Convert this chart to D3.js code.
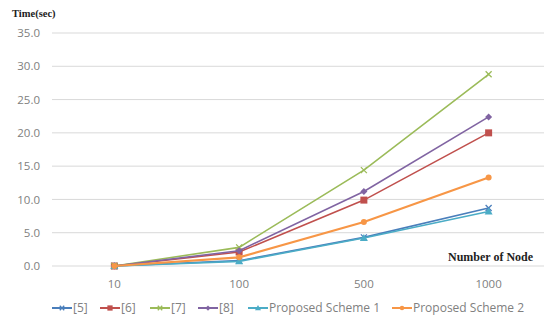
<!DOCTYPE html>
<html><head><meta charset="utf-8">
<script src="https://cdn.jsdelivr.net/npm/d3@7"></script>
<style>body{margin:0;background:#fff}svg{display:block}</style>
</head><body>
<svg id="c" width="544" height="320"></svg>
<script>
const categories = ["10", "100", "500", "1000"];
const yTicks = [0, 5, 10, 15, 20, 25, 30, 35];
const s5   = [0, 0.8, 4.3, 8.7];
const s6   = [0, 2.1, 9.9, 20.0];
const s7   = [0, 2.8, 14.4, 28.8];
const s8   = [0, 2.3, 11.2, 22.4];
const ps1  = [0, 0.7, 4.2, 8.2];
const ps2  = [0, 1.3, 6.6, 13.3];
const seriesNames = ["[5]", "[6]", "[7]", "[8]", "Proposed Scheme 1", "Proposed Scheme 2"];
const seriesValues = [s5, s6, s7, s8, ps1, ps2];
const colors = ["#4a7ebb", "#c0504d", "#9bbb59", "#8064a2", "#4bacc6", "#f79646"];
const markers = ["x", "square", "x", "diamond", "triangle", "circle"];

const svg = d3.select("#c");
const x = d3.scaleBand().domain(categories).range([52, 551]);
const y = d3.scaleLinear().domain([0, 35]).range([266, 33]);
const fontSans = "'Open Sans', 'Noto Sans', sans-serif";

// grid
svg.append("g").selectAll("line").data(yTicks).join("line")
  .attr("x1", 52).attr("x2", 544)
  .attr("y1", d => y(d)).attr("y2", d => y(d))
  .attr("stroke", "#d9d9d9").attr("stroke-width", 1);

// y axis labels
const yAxis = d3.axisLeft(y).tickValues(yTicks).tickFormat(d3.format(".1f")).tickSize(0).tickPadding(0);
const gy = svg.append("g").attr("transform", "translate(40,0)").call(yAxis);
gy.select(".domain").remove();
gy.selectAll("text").attr("fill", "#808080").style("font-family", fontSans).style("font-size", "11.5px");

// x axis labels
const xAxis = d3.axisBottom(x).tickSize(0).tickPadding(0);
const gx = svg.append("g").attr("transform", "translate(0,280)").call(xAxis);
gx.select(".domain").remove();
gx.selectAll("text").attr("fill", "#808080").style("font-family", fontSans).style("font-size", "11.5px");

const cx = c => x(c) + x.bandwidth() / 2;
const line = d3.line().x((d, i) => cx(categories[i])).y(d => y(d));

function drawMarker(g, type, color, px, py, s) {
  s = s || 1;
  if (type === "square") {
    g.append("rect").attr("x", px - 3.5*s).attr("y", py - 3.5*s).attr("width", 7*s).attr("height", 7*s).attr("fill", color);
  } else if (type === "diamond") {
    g.append("path").attr("d", `M${px},${py-3.5*s}L${px+3.5*s},${py}L${px},${py+3.5*s}L${px-3.5*s},${py}Z`).attr("fill", color);
  } else if (type === "triangle") {
    g.append("path").attr("d", `M${px},${py-4*s}L${px+4*s},${py+3*s}L${px-4*s},${py+3*s}Z`).attr("fill", color);
  } else if (type === "circle") {
    g.append("circle").attr("cx", px).attr("cy", py).attr("r", 3*s).attr("fill", color);
  } else if (type === "x") {
    g.append("path").attr("d", `M${px-3*s},${py-3*s}L${px+3*s},${py+3*s}M${px-3*s},${py+3*s}L${px+3*s},${py-3*s}`).attr("stroke", color).attr("stroke-width", 1.3);
  }
}

seriesValues.forEach((vals, si) => {
  const g = svg.append("g");
  g.append("path").datum(vals).attr("d", line).attr("fill", "none")
    .attr("stroke", colors[si]).attr("stroke-width", si === 5 ? 2.2 : 1.6);
  vals.forEach((v, i) => drawMarker(g, markers[si], colors[si], cx(categories[i]), y(v)));
});

// titles
svg.append("text").attr("x", 12).attr("y", 17).text("Time(sec)")
  .style("font-family", "'Liberation Serif', 'DejaVu Serif', serif").style("font-size", "10.5px").style("font-weight", "bold").attr("fill", "#222");
svg.append("text").attr("x", 448).attr("y", 261).text("Number of Node")
  .style("font-family", "'Liberation Serif', 'DejaVu Serif', serif").style("font-size", "12px").style("font-weight", "bold").attr("fill", "#222");

// legend
const legendX = [52, 100, 150, 198, 248, 392];
const lg = svg.append("g");
seriesNames.forEach((n, i) => {
  const lx = legendX[i], ly = 308;
  lg.append("line").attr("x1", lx).attr("x2", lx + 20).attr("y1", ly).attr("y2", ly)
    .attr("stroke", colors[i]).attr("stroke-width", 2);
  drawMarker(lg, markers[i], colors[i], lx + 10, ly, 0.75);
  lg.append("text").attr("x", lx + 21).attr("y", ly + 4).text(n)
    .attr("fill", "#808080").style("font-family", fontSans).style("font-size", "12px");
});
</script>
</body></html>
